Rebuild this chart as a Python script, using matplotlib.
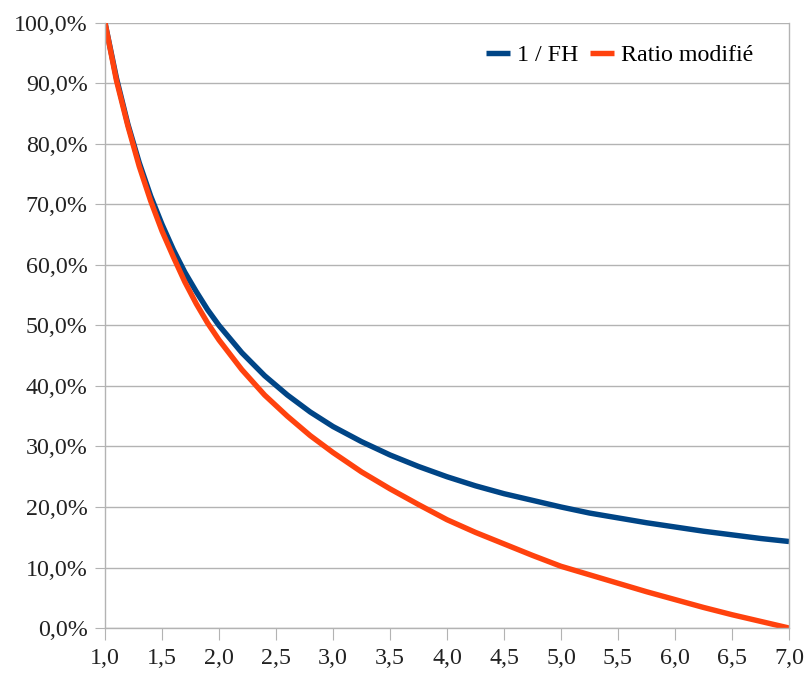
import numpy as np
import matplotlib.pyplot as plt
from matplotlib.ticker import FuncFormatter

plt.rcParams['font.family'] = ['Liberation Serif', 'DejaVu Serif']

# valeurs
x_vals = [1.0, 1.1, 1.2, 1.3, 1.4, 1.5, 1.6, 1.7, 1.8, 1.9, 2.0,
          2.2, 2.4, 2.6, 2.8, 3.0, 3.25, 3.5, 3.75, 4.0, 4.25, 4.5, 4.75,
          5.0, 5.25, 5.5, 5.75, 6.0, 6.25, 6.5, 6.75, 7.0]
inv_fh = [100.0, 90.9, 83.3, 76.9, 71.4, 66.7, 62.5, 58.8, 55.6, 52.6, 50.0,
          45.5, 41.7, 38.5, 35.7, 33.3, 30.8, 28.6, 26.7, 25.0, 23.5, 22.2, 21.1,
          20.0, 19.0, 18.2, 17.4, 16.7, 16.0, 15.4, 14.8, 14.3]
ratio_mod = [100.0, 90.5, 83.0, 76.3, 70.6, 65.6, 61.3, 57.2, 53.6, 50.4, 47.6,
             42.7, 38.5, 35.0, 31.8, 29.0, 25.8, 23.0, 20.4, 17.9, 15.8, 13.9, 12.0,
             10.2, 8.8, 7.4, 6.0, 4.7, 3.4, 2.2, 1.1, 0.0]

x_ticks = [1.0, 1.5, 2.0, 2.5, 3.0, 3.5, 4.0, 4.5, 5.0, 5.5, 6.0, 6.5, 7.0]
y_ticks = [0, 10, 20, 30, 40, 50, 60, 70, 80, 90, 100]

fig = plt.figure(figsize=(8.08, 6.75), dpi=100)
ax = fig.add_axes([0.13, 0.0696, 0.8465, 0.8964])

ax.plot(x_vals, inv_fh, color='#004586', lw=3.9, label='1 / FH',
        solid_capstyle='butt', solid_joinstyle='round')
ax.plot(x_vals, ratio_mod, color='#ff420e', lw=3.9, label='Ratio modifié',
        solid_capstyle='butt', solid_joinstyle='round')

ax.set_xlim(1.0, 7.0)
ax.set_ylim(0, 100)
ax.set_xticks(x_ticks)
ax.set_yticks(y_ticks)
ax.xaxis.set_major_formatter(FuncFormatter(lambda v, p: f"{v:.1f}".replace('.', ',')))
ax.yaxis.set_major_formatter(FuncFormatter(lambda v, p: f"{v:.1f}%".replace('.', ',')))

ax.grid(axis='y', color='#b3b3b3', lw=1)
ax.set_axisbelow(True)
for s in ['left', 'bottom', 'right']:
    ax.spines[s].set_color('#b3b3b3')
    ax.spines[s].set_linewidth(1)
ax.spines['top'].set_visible(False)
ax.tick_params(axis='both', direction='out', color='#b3b3b3',
               labelsize=17.3, labelcolor='#222222')
ax.tick_params(axis='x', length=8.5, pad=6)
ax.tick_params(axis='y', length=7, pad=5.5)

ax.legend(loc='upper right', ncol=2, frameon=False, fontsize=17.3,
          handlelength=1.0, handletextpad=0.3, columnspacing=0.5,
          bbox_to_anchor=(0.98, 1.0))

plt.savefig('out.png', dpi=100)
